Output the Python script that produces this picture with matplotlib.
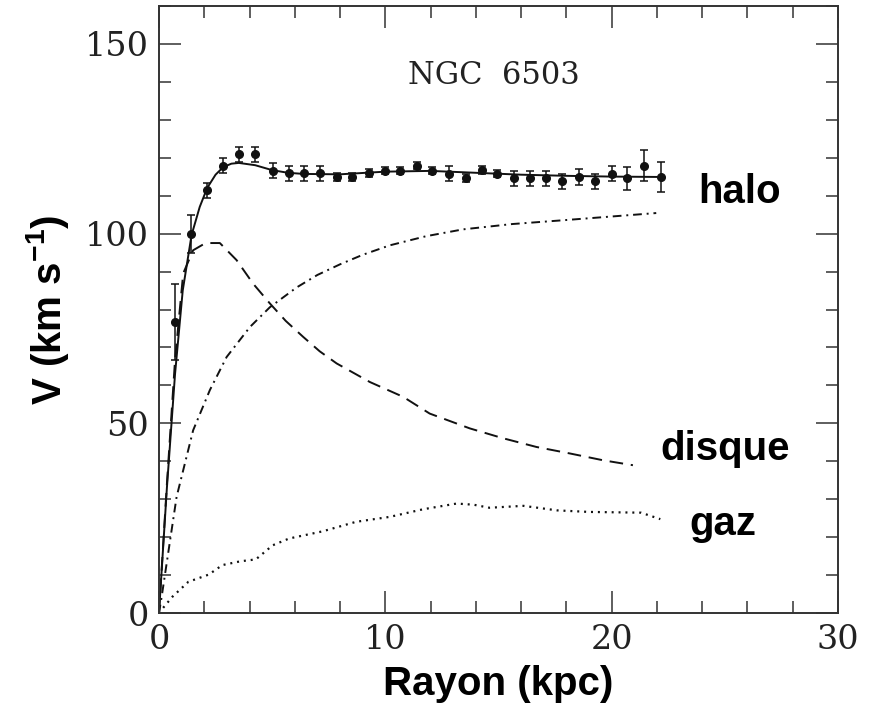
import matplotlib
matplotlib.use("Agg")
import matplotlib.pyplot as plt
from matplotlib.ticker import MultipleLocator

plt.rcParams["mathtext.fontset"] = "custom"
plt.rcParams["mathtext.bf"] = "Liberation Sans:bold"
plt.rcParams["mathtext.rm"] = "Liberation Sans:bold"
plt.rcParams["mathtext.default"] = "bf"

# Observed rotation curve points
obs_r = [0.71, 1.40, 2.13, 2.84, 3.53, 4.25, 5.02, 5.73, 6.39, 7.12, 7.85, 8.55, 9.26, 9.99,
         10.67, 11.40, 12.08, 12.82, 13.55, 14.25, 14.95, 15.69, 16.41, 17.12, 17.82, 18.54,
         19.28, 20.01, 20.69, 21.43, 22.16]
obs_v = [76.7, 100.0, 111.4, 117.9, 120.9, 120.9, 116.6, 115.9, 115.9, 115.9, 114.9, 114.9,
         115.9, 116.6, 116.6, 117.9, 116.6, 115.8, 114.6, 116.8, 115.8, 114.6, 114.6, 114.6,
         113.8, 114.9, 113.8, 115.8, 114.6, 117.9, 114.9]
obs_err = [10, 5, 2, 2, 2, 2, 2, 2, 2, 2, 1, 1, 1, 1, 1, 1, 1, 2, 1, 1, 1, 2, 2, 2, 2, 2,
           2, 2, 3, 4, 4]

# Model: total
total_r = [0, 0.35, 0.71, 1.05, 1.44, 1.8, 2.13, 2.5, 2.84, 3.2, 3.53, 4.25, 5.0, 5.7,
           6.4, 8, 10, 12, 14, 16, 18, 20, 22.16]
total_v = [0, 33, 63, 85, 99.6, 107, 112, 115.5, 117.5, 118.4, 118.6, 118, 116.7, 116,
           115.7, 115.6, 116.3, 116.5, 116, 115.5, 115.2, 115, 114.9]

# Model: disk
disk_r = [0, 0.35, 0.71, 1.07, 1.51, 2.0, 2.2, 2.69, 3.43, 4.16, 4.9, 5.6, 6.37, 7.1, 7.85,
          9.32, 10.79, 11.96, 13.73, 15.2, 16.68, 18.15, 19.62, 20.94]
disk_v = [0, 34, 66.7, 89.5, 95.6, 97.3, 97.5, 97.5, 93.0, 86.8, 81.6, 77.0, 72.8, 69.0,
          65.8, 60.9, 57.0, 52.6, 48.7, 46.1, 43.8, 42.1, 40.3, 39.0]

# Model: dark halo
halo_r = [0, 0.12, 0.78, 1.51, 2.25, 2.99, 4.02, 4.9, 6.08, 7.0, 8.0, 9.0, 10.2, 11.8,
          13.43, 15.6, 17.85, 21.97]
halo_v = [0, 4.4, 30.7, 48.2, 58.8, 67.5, 75.4, 80.6, 85.8, 89.1, 91.9, 94.4, 96.9, 99.3,
          101.1, 102.5, 103.5, 105.4]

# Model: gas
gas_r = [0, 0.15, 0.6, 1.3, 2.2, 2.8, 3.6, 4.28, 5.02, 5.75, 7.24, 8.71, 10.2, 11.67,
         13.15, 13.9, 14.6, 16.1, 17.6, 19.0, 21.3, 22.15]
gas_v = [0, 1.2, 4.4, 8.3, 10.2, 12.7, 13.7, 14.2, 17.9, 19.7, 21.6, 24.1, 25.4, 27.4,
         28.9, 28.6, 27.8, 28.3, 27.1, 26.7, 26.5, 24.8]

fig = plt.figure(figsize=(8.72, 7.12), dpi=100)
ax = fig.add_axes([0.1823, 0.1386, 0.7787, 0.8534])

ink = "#111111"
ax.plot(total_r, total_v, color=ink, lw=1.4, solid_joinstyle="round")
ax.plot(disk_r, disk_v, color=ink, lw=1.4, linestyle=(0, (7, 4)))
ax.plot(halo_r, halo_v, color=ink, lw=1.4, linestyle=(0, (4.5, 2.5, 1, 2.5)))
ax.plot(gas_r, gas_v, color=ink, lw=1.6, linestyle=(0, (0.9, 2.2)))
ax.errorbar(obs_r, obs_v, yerr=obs_err, fmt="o", color=ink, ms=5.5, elinewidth=1.1,
            capsize=2.8, capthick=1.1)

ax.set_xlim(0, 30)
ax.set_ylim(0, 160)
ax.set_xticks([0, 10, 20, 30])
ax.set_yticks([0, 50, 100, 150])
ax.xaxis.set_minor_locator(MultipleLocator(2))
ax.yaxis.set_minor_locator(MultipleLocator(10))
ax.tick_params(which="both", direction="in", top=True, right=True, color="#333333",
               width=1.1, labelcolor="#222222")
ax.tick_params(which="major", length=16)
ax.tick_params(which="minor", length=8.5)
ax.tick_params(axis="x", pad=8)
ax.tick_params(axis="y", pad=7)
for lab in ax.get_xticklabels() + ax.get_yticklabels():
    lab.set_fontfamily("DejaVu Serif")
    lab.set_fontsize(24)
for sp in ax.spines.values():
    sp.set_linewidth(1.4)
    sp.set_color("#333333")

ax.text(14.8, 141.6, "NGC  6503", family="DejaVu Serif", fontsize=22, color="#222222",
        ha="center", va="center")

bold = dict(family="Liberation Sans", fontweight="bold", fontsize=29, color="black")
ax.text(25.65, 108, "halo", ha="center", va="baseline", **bold)
ax.text(25.0, 40.3, "disque", ha="center", va="baseline", **bold)
ax.text(24.9, 20.6, "gaz", ha="center", va="baseline", **bold)

ax.set_xlabel("Rayon (kpc)", family="Liberation Sans", fontweight="bold", fontsize=29,
              labelpad=6)
ax.set_ylabel("V (km s$^{-1}$)", family="Liberation Sans", fontweight="bold",
              fontsize=29, labelpad=10)

fig.savefig("out.png", dpi=100)
